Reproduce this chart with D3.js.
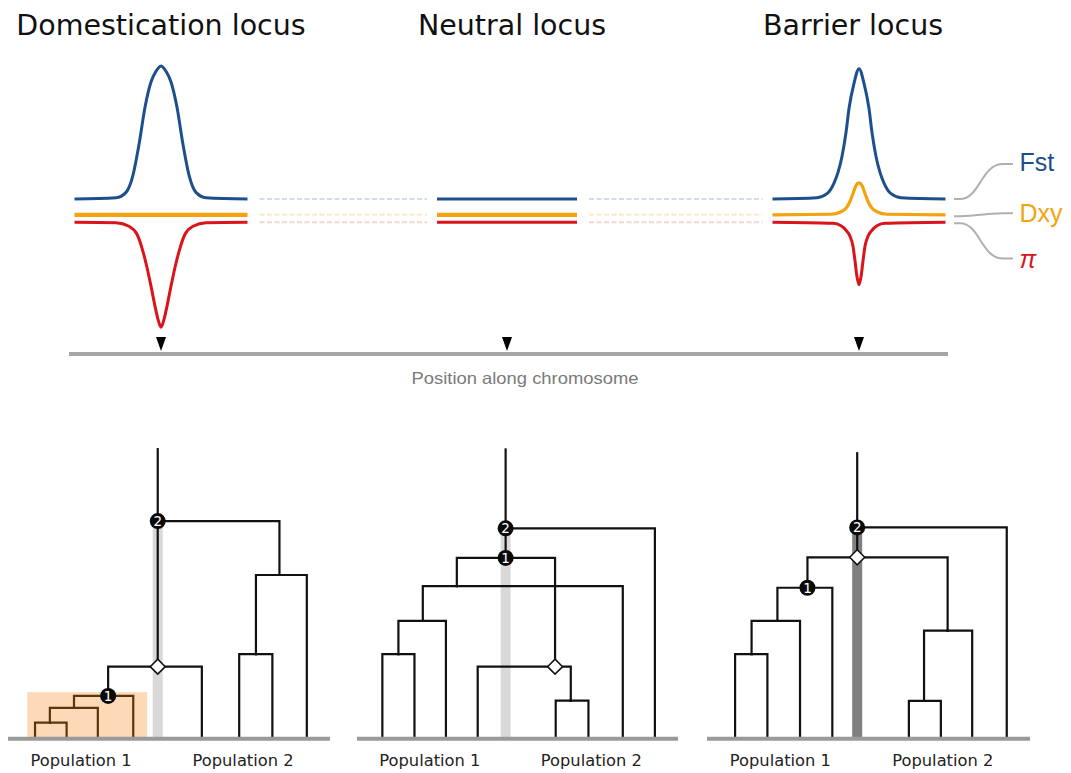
<!DOCTYPE html>
<html>
<head>
<meta charset="utf-8">
<script src="https://cdn.jsdelivr.net/npm/d3@7"></script>
<style>
  html, body { margin: 0; background: #fff; }
  svg { display: block; }
</style>
</head>
<body>
<svg id="fig" width="1071" height="773"></svg>
<script>
// ---------- Loci along the chromosome (kb) ----------
const lociNames = ["Domestication locus", "Neutral locus", "Barrier locus"];
const lociPositions = [92, 438, 790];
const lociHalfSpan = [86.5, 70, 86.5];
const chromosomeLength = 879;

// ---------- Summary-statistic profiles: [offset from locus (kb), value (% of max Fst)] ----------
const fstDomestication = [[-86.5, 0], [-45, 1], [-35, 5], [-28, 18], [-22, 41], [-16, 69], [-10, 88], [-5, 96], [0, 100],
  [5, 96], [10, 88], [16, 69], [22, 41], [28, 18], [35, 5], [45, 1], [86.5, 0]];
const dxyDomestication = [[-86.5, 0], [86.5, 0]];
const piDomestication = [[-86.5, 0], [-45, 0.4], [-32, 3], [-24, 9], [-18, 22], [-14, 34], [-10, 48], [-6, 63], [-3, 73], [0, 79],
  [3, 73], [6, 63], [10, 48], [14, 34], [18, 22], [24, 9], [32, 3], [45, 0.4], [86.5, 0]];

const fstNeutral = [[-70, 0], [70, 0]];
const dxyNeutral = [[-70, 0], [70, 0]];
const piNeutral = [[-70, 0], [70, 0]];

const fstBarrier = [[-86.5, 0], [-42, 1], [-32, 4], [-25, 12], [-21, 20], [-17, 32], [-13, 50], [-10, 68], [-5, 87], [0, 98],
  [5, 87], [10, 68], [13, 50], [17, 32], [21, 20], [25, 12], [32, 4], [42, 1], [86.5, 0]];
const dxyBarrier = [[-86.5, 0], [-28, 0.4], [-18, 2.3], [-13, 5], [-9, 10], [-6, 16], [-3, 22], [0, 24],
  [3, 22], [6, 16], [9, 10], [13, 5], [18, 2.3], [28, 0.4], [86.5, 0]];
const piBarrier = [[-86.5, 0], [-26, 0.8], [-18, 2.6], [-13, 6], [-9, 10.5], [-6, 18], [-4, 29], [-2, 41], [0, 47],
  [2, 41], [4, 29], [6, 18], [9, 10.5], [13, 6], [18, 2.6], [26, 0.8], [86.5, 0]];

const statNames = ["Fst", "Dxy", "π"];
const fstProfiles = [fstDomestication, fstNeutral, fstBarrier];
const dxyProfiles = [dxyDomestication, dxyNeutral, dxyBarrier];
const piProfiles = [piDomestication, piNeutral, piBarrier];

// ---------- Gene genealogies at each locus (x: leaf order 0-100, t: time 0-100) ----------
const treeDomestication = [
  { id: "root", parent: null, x: 46.5, t: 99.5 },
  { id: "n2", parent: "root", x: 46.5, t: 74.7, mark: "2" },
  { id: "sweep", parent: "n2", x: 46.5, t: 24.5, mark: "diamond" },
  { id: "p2a", parent: "n2", x: 84.3, t: 56.1 },
  { id: "p2b", parent: "p2a", x: 77.0, t: 28.8 },
  { id: "s1", parent: "p2a", x: 92.8, t: 0 },
  { id: "s2", parent: "p2b", x: 71.8, t: 0 },
  { id: "s3", parent: "p2b", x: 82.1, t: 0 },
  { id: "n1", parent: "sweep", x: 31.1, t: 14.4, mark: "1" },
  { id: "s4", parent: "sweep", x: 60.2, t: 0 },
  { id: "c1", parent: "n1", x: 20.5, t: 10.3, clade: true },
  { id: "s5", parent: "n1", x: 38.9, t: 0, clade: true },
  { id: "c2", parent: "c1", x: 13.0, t: 5.2, clade: true },
  { id: "s6", parent: "c1", x: 27.9, t: 0, clade: true },
  { id: "s7", parent: "c2", x: 8.4, t: 0, clade: true },
  { id: "s8", parent: "c2", x: 18.2, t: 0, clade: true }
];
const treeNeutral = [
  { id: "root", parent: null, x: 46.3, t: 99.4 },
  { id: "n2", parent: "root", x: 46.3, t: 72.2, mark: "2" },
  { id: "s1", parent: "n2", x: 92.8, t: 0 },
  { id: "n1", parent: "n2", x: 46.3, t: 62.0, mark: "1" },
  { id: "a", parent: "n1", x: 31.1, t: 52.3 },
  { id: "mig", parent: "n1", x: 61.7, t: 24.5, mark: "diamond" },
  { id: "b", parent: "a", x: 20.5, t: 40.3 },
  { id: "s2", parent: "a", x: 82.8, t: 0 },
  { id: "c", parent: "b", x: 12.9, t: 28.8 },
  { id: "s3", parent: "b", x: 27.7, t: 0 },
  { id: "s4", parent: "c", x: 7.9, t: 0 },
  { id: "s5", parent: "c", x: 17.9, t: 0 },
  { id: "s6", parent: "mig", x: 37.6, t: 0 },
  { id: "d", parent: "mig", x: 66.6, t: 12.8 },
  { id: "s7", parent: "d", x: 61.9, t: 0 },
  { id: "s8", parent: "d", x: 72.1, t: 0 }
];
const treeBarrier = [
  { id: "root", parent: null, x: 46.5, t: 98.1 },
  { id: "n2", parent: "root", x: 46.5, t: 72.5, mark: "2" },
  { id: "s1", parent: "n2", x: 92.8, t: 0 },
  { id: "split", parent: "n2", x: 46.5, t: 62.2, mark: "diamond" },
  { id: "n1", parent: "split", x: 31.1, t: 51.7, mark: "1" },
  { id: "j", parent: "split", x: 74.5, t: 36.9 },
  { id: "k", parent: "j", x: 67.2, t: 12.7 },
  { id: "s2", parent: "j", x: 82.1, t: 0 },
  { id: "s3", parent: "k", x: 62.5, t: 0 },
  { id: "s4", parent: "k", x: 72.4, t: 0 },
  { id: "l", parent: "n1", x: 21.8, t: 40.3 },
  { id: "s5", parent: "n1", x: 38.8, t: 0 },
  { id: "m", parent: "l", x: 13.8, t: 28.8 },
  { id: "s6", parent: "l", x: 28.8, t: 0 },
  { id: "s7", parent: "m", x: 8.7, t: 0 },
  { id: "s8", parent: "m", x: 18.7, t: 0 }
];
const trees = [treeDomestication, treeNeutral, treeBarrier];
const populationLabels = ["Population 1", "Population 2"];
const populationCentres = [22.7, 73];
// Clade of Population 1 lineages swept to fixation at the domestication locus
const sweptClade = { x0: 6.0, x1: 43.2, t: 15.7 };

// ---------- Styling ----------
const colFst = "#1d4f8c", colDxy = "#f2a30f", colPi = "#d9141b";
const fadedCol = ["#d2dcec", "#fbeac6", "#f7d4d4"];
const titleFont = "'DejaVu Sans', sans-serif";
const labelFont = "'Liberation Sans', Arial, sans-serif";
const titleShift = [0, 5, -6];

const svg = d3.select("#fig");

// ---------- Top panel: statistics along the chromosome ----------
const x = d3.scaleLinear().domain([0, chromosomeLength]).range([69, 948]);
const h = d3.scaleLinear().domain([0, 100]).range([0, 133]);

const stats = [
  { profiles: fstProfiles, base: 199, dir: -1, color: colFst, width: [3, 3, 3] },
  { profiles: dxyProfiles, base: 214.8, dir: -1, color: colDxy, width: [4.2, 4.2, 3.2] },
  { profiles: piProfiles, base: 222.3, dir: 1, color: colPi, width: [3, 3, 3] }
];

const statPanel = svg.append("g");

// faint dashed links between sampled windows
stats.forEach((s, si) => {
  for (let i = 0; i < lociPositions.length - 1; i++) {
    const a = lociPositions[i] + lociHalfSpan[i] + 12;
    const b = lociPositions[i + 1] - lociHalfSpan[i + 1] - 10;
    statPanel.append("line")
      .attr("x1", x(a)).attr("x2", x(b))
      .attr("y1", s.base).attr("y2", s.base)
      .attr("stroke", fadedCol[si]).attr("stroke-width", 2)
      .attr("stroke-dasharray", "5,2.5");
  }
});

stats.forEach(s => {
  s.profiles.forEach((prof, li) => {
    const line = d3.line()
      .x(d => x(lociPositions[li] + d[0]))
      .y(d => s.base + s.dir * h(d[1]))
      .curve(d3.curveMonotoneX);
    statPanel.append("path")
      .attr("d", line(prof))
      .attr("fill", "none")
      .attr("stroke", s.color)
      .attr("stroke-width", s.width[li])
      .attr("stroke-linejoin", "round");
  });
});

// titles
lociNames.forEach((name, i) => {
  statPanel.append("text")
    .attr("x", x(lociPositions[i]) + titleShift[i])
    .attr("y", 35)
    .attr("text-anchor", "middle")
    .attr("font-family", titleFont)
    .attr("font-size", 28.5)
    .attr("fill", "#111")
    .text(name);
});

// chromosome axis with locus markers
statPanel.append("line")
  .attr("x1", x(0)).attr("x2", x(chromosomeLength))
  .attr("y1", 354).attr("y2", 354)
  .attr("stroke", "#a6a6a6").attr("stroke-width", 4);

lociPositions.forEach(p => {
  const cx = x(p);
  statPanel.append("path")
    .attr("d", `M${cx - 5},337 L${cx + 5},337 L${cx},351 Z`)
    .attr("fill", "#000");
});

statPanel.append("text")
  .attr("x", 525).attr("y", 384)
  .attr("text-anchor", "middle")
  .attr("font-family", labelFont)
  .attr("font-size", 16.5)
  .attr("fill", "#7a7a7a")
  .attr("textLength", 227)
  .attr("lengthAdjust", "spacingAndGlyphs")
  .text("Position along chromosome");

// legend connectors and labels
const legendEnd = x(lociPositions[2] + lociHalfSpan[2]);
const legendItems = [
  { y0: stats[0].base, y1: 164, ty: 171, color: colFst, italic: false },
  { y0: stats[1].base + 1.5, y1: 213.3, ty: 222, color: colDxy, italic: false },
  { y0: stats[2].base + 1, y1: 258.5, ty: 268, color: colPi, italic: true }
];
legendItems.forEach((d, i) => {
  const x0 = legendEnd + 8.5, x1 = 1003, x2 = 1013;
  statPanel.append("path")
    .attr("d", `M${x0},${d.y0} L${x0 + 6},${d.y0} C${x0 + 26},${d.y0} ${x1 - 22},${d.y1} ${x1},${d.y1} L${x2},${d.y1}`)
    .attr("fill", "none")
    .attr("stroke", "#b0b0b0")
    .attr("stroke-width", 2);
  statPanel.append("text")
    .attr("x", 1019.5).attr("y", d.ty)
    .attr("font-family", labelFont)
    .attr("font-size", 25)
    .attr("font-style", d.italic ? "italic" : "normal")
    .attr("fill", d.color)
    .text(statNames[i]);
});

// ---------- Bottom panel: genealogies ----------
const treeRanges = [[8, 330], [357, 678], [707, 1030]];
const bandColors = ["#d9d9d9", "#d9d9d9", "#808080"];
const tY = d3.scaleLinear().domain([0, 100]).range([737.7, 447.7]);

trees.forEach((nodes, ti) => {
  const g = svg.append("g");
  const tx = d3.scaleLinear().domain([0, 100]).range(treeRanges[ti]);
  const root = d3.stratify().id(d => d.id).parentId(d => d.parent)(nodes);
  const n2 = root.descendants().find(d => d.data.mark === "2");

  // highlighted swept clade
  if (ti === 0) {
    g.append("rect")
      .attr("x", tx(sweptClade.x0)).attr("width", tx(sweptClade.x1) - tx(sweptClade.x0))
      .attr("y", tY(sweptClade.t)).attr("height", tY(0) - tY(sweptClade.t))
      .attr("fill", "#fdd9b7");
  }

  // lineage band below the common ancestor
  g.append("rect")
    .attr("x", tx(n2.data.x) - 5).attr("width", 10)
    .attr("y", tY(n2.data.t)).attr("height", tY(0) - tY(n2.data.t))
    .attr("fill", bandColors[ti]);

  // branches (elbow links)
  root.descendants().forEach(node => {
    if (!node.parent) return;
    const p = node.parent.data, c = node.data;
    g.append("path")
      .attr("d", `M${tx(p.x)},${tY(p.t)} H${tx(c.x)} V${tY(c.t)}`)
      .attr("fill", "none")
      .attr("stroke", c.clade ? "#5a3610" : "#111")
      .attr("stroke-width", 2.2)
      .attr("stroke-linejoin", "miter")
      .attr("stroke-linecap", "square");
  });

  // ground line
  g.append("line")
    .attr("x1", tx(0)).attr("x2", tx(100))
    .attr("y1", tY(0) + 1).attr("y2", tY(0) + 1)
    .attr("stroke", "#9a9a9a").attr("stroke-width", 4);

  // event markers
  root.descendants().filter(d => d.data.mark).forEach(node => {
    const cx = tx(node.data.x), cy = tY(node.data.t);
    if (node.data.mark === "diamond") {
      g.append("path")
        .attr("d", `M${cx},${cy - 7.5} L${cx + 7.5},${cy} L${cx},${cy + 7.5} L${cx - 7.5},${cy} Z`)
        .attr("fill", "#fff").attr("stroke", "#111").attr("stroke-width", 1.5);
    } else {
      g.append("circle").attr("cx", cx).attr("cy", cy).attr("r", 8).attr("fill", "#0a0a0a");
      g.append("text")
        .attr("x", cx).attr("y", cy + 4.8)
        .attr("text-anchor", "middle")
        .attr("font-family", titleFont)
        .attr("font-size", 13.5)
        .attr("fill", "#fff")
        .text(node.data.mark);
    }
  });

  // population labels
  populationLabels.forEach((lab, i) => {
    g.append("text")
      .attr("x", tx(populationCentres[i])).attr("y", 766)
      .attr("text-anchor", "middle")
      .attr("font-family", titleFont)
      .attr("font-size", 16.3)
      .attr("fill", "#222")
      .text(lab);
  });
});
</script>
</body>
</html>
